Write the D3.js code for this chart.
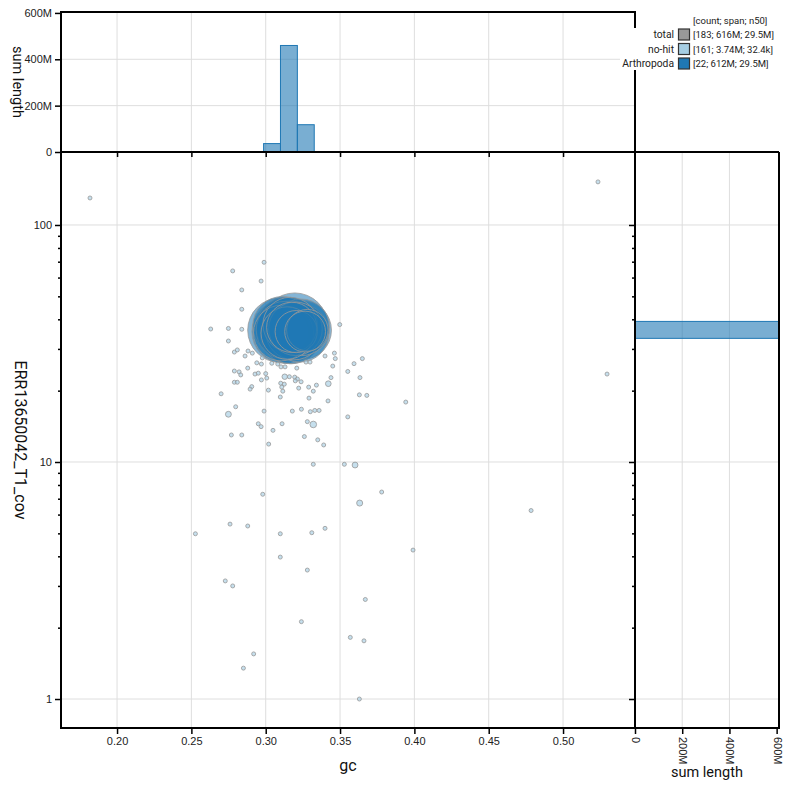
<!DOCTYPE html>
<html>
<head>
<meta charset="utf-8">
<script src="https://cdn.jsdelivr.net/npm/d3@7"></script>
<style>
  body { margin: 0; background: #fff; }
  svg { font-family: Roboto, "Noto Sans", sans-serif; }
</style>
</head>
<body>
<svg id="chart" width="790" height="790"></svg>
<script>
// Arthropoda contigs: gc, coverage, length (Mb)
var arthGc  = [0.3195, 0.3095, 0.3120, 0.3150, 0.3170, 0.3140, 0.3180, 0.3110, 0.3160, 0.3130, 0.3190,
               0.3105, 0.3165, 0.3200, 0.3145, 0.3175, 0.3205, 0.3245, 0.3230, 0.3240, 0.3280, 0.3265];
var arthCov = [37.5, 36.0, 35.5, 36.5, 35.0, 37.0, 36.0, 37.5, 34.5, 36.0, 35.5,
               35.0, 38.0, 36.5, 35.0, 37.0, 35.5, 36.0, 35.0, 37.0, 36.0, 35.5];
var arthLen = [38, 36, 35, 34, 33, 32, 31, 30, 29.5, 29, 28,
               27, 26, 25, 24, 22, 15.5, 30, 29.5, 28, 15, 14.5];

// no-hit contigs: gc, coverage, length (kb)
var noHitGc = [0.1818, 0.5235, 0.5296, 0.4785, 0.3991, 0.3942, 0.3780, 0.2950, 0.2969, 0.3110,
               0.3280, 0.3320, 0.2769, 0.2839, 0.3049, 0.3260, 0.3350, 0.3020, 0.3390, 0.3320,
               0.3529, 0.3601, 0.2980, 0.3632, 0.2760, 0.2879, 0.2527, 0.3098, 0.3310, 0.3399,
               0.3098, 0.3280, 0.2728, 0.2778, 0.3670, 0.3240, 0.3569, 0.3661, 0.2919, 0.2850,
               0.3630, 0.2989, 0.2778, 0.2969, 0.2839, 0.2839, 0.2630, 0.2749, 0.2839, 0.3498,
               0.2749, 0.2789, 0.2809, 0.2881, 0.2910, 0.2861, 0.3462, 0.3399, 0.3468, 0.2977,
               0.2940, 0.2971, 0.3041, 0.3081, 0.3103, 0.3130, 0.3209, 0.3271, 0.3298, 0.3451,
               0.3594, 0.3650, 0.2789, 0.2821, 0.2832, 0.2879, 0.2928, 0.2950, 0.3000, 0.3552,
               0.2971, 0.3007, 0.3128, 0.3159, 0.3195, 0.3213, 0.3238, 0.3439, 0.3634, 0.2789,
               0.2809, 0.3101, 0.3125, 0.3199, 0.3421, 0.2906, 0.2895, 0.3018, 0.3108, 0.3115,
               0.3222, 0.3289, 0.3341, 0.3320, 0.2700, 0.3098, 0.3291, 0.3419, 0.3630, 0.3680,
               0.2798, 0.2989, 0.3179, 0.3240, 0.3300, 0.3330, 0.3359, 0.3552, 0.2749];
var noHitCov = [130, 152, 23.5, 6.24, 4.25, 17.9, 7.47, 14.5, 14.1, 14.5,
                14.8, 14.4, 13.0, 13.0, 13.6, 12.8, 12.4, 11.9, 11.8, 9.78,
                9.78, 9.71, 7.31, 6.71, 5.47, 5.37, 4.98, 4.98, 5.03, 5.25,
                3.97, 3.50, 3.15, 3.00, 2.63, 2.12, 1.82, 1.76, 1.55, 1.35,
                1.00, 69.6, 64.0, 58.0, 53.2, 44.1, 36.4, 36.6, 36.3, 38.0,
                32.4, 29.1, 29.7, 29.4, 28.8, 28.0, 28.8, 28.0, 27.3, 27.5,
                26.2, 25.9, 26.1, 25.9, 25.2, 25.2, 24.9, 26.4, 26.4, 25.4,
                26.0, 27.3, 24.2, 24.0, 23.3, 24.9, 23.5, 23.7, 23.6, 24.1,
                22.2, 22.6, 22.9, 22.9, 22.8, 22.4, 21.8, 22.7, 22.7, 21.7,
                21.7, 21.5, 21.3, 22.0, 21.4, 20.8, 20.3, 20.1, 20.7, 19.9,
                20.5, 20.7, 21.1, 19.9, 19.4, 18.8, 18.6, 18.1, 19.2, 19.1,
                17.1, 16.4, 16.4, 16.7, 16.3, 16.5, 16.5, 15.5, 15.9];
var noHitLen = [18, 16, 15, 20, 14, 15, 15, 30, 12, 40,
                25, 380, 12, 14, 16, 20, 18, 22, 12, 30,
                12, 300, 15, 320, 14, 18, 12, 15, 20, 16,
                12, 14, 12, 12, 15, 12, 12, 14, 12, 12,
                14, 60, 30, 16, 25, 30, 20, 18, 16, 30,
                25, 35, 30, 40, 25, 30, 30, 30, 30, 25,
                25, 30, 20, 18, 16, 16, 14, 25, 20, 16,
                14, 12, 30, 35, 30, 20, 30, 25, 20, 16,
                30, 35, 260, 40, 30, 30, 25, 30, 12, 30,
                30, 20, 25, 30, 280, 30, 30, 35, 20, 25,
                30, 30, 25, 30, 20, 30, 25, 30, 14, 12,
                30, 25, 25, 25, 25, 25, 25, 20, 300];

var gcTicks = [0.20, 0.25, 0.30, 0.35, 0.40, 0.45, 0.50];
var covTicks = [1, 10, 100];
var covMinor = [2, 3, 4, 5, 6, 7, 8, 9, 20, 30, 40, 50, 60, 70, 80, 90];
var lenTicks = [0, 200e6, 400e6, 600e6];

var legendNames = ["total", "no-hit", "Arthropoda"];
var legendStats = ["[183; 616M; 29.5M]", "[161; 3.74M; 32.4k]", "[22; 612M; 29.5M]"];
var legendColors = ["#999999", "#a6cee3", "#1f78b4"];

// layout
var L = 61, R = 635, T = 152, B = 728, histTop = 12, histRight = 779;
var nBins = 34;

var svg = d3.select("#chart");

var x = d3.scaleLinear().domain([0.1623, 0.5484]).range([L, R]);
var y = d3.scaleLog().domain([0.7546, 203.2]).range([B, T]);
var hTop = d3.scaleLinear().domain([0, 604e6]).range([T, histTop]);
var hRight = d3.scaleLinear().domain([0, 610e6]).range([R, histRight]);
var rad = d3.scaleSqrt().domain([0, 38e6]).range([0, 33]);

// build the contig list
var contigs = [];
arthGc.forEach(function(g, i) {
  contigs.push({gc: g, cov: arthCov[i], len: arthLen[i] * 1e6, group: "Arthropoda"});
});
noHitGc.forEach(function(g, i) {
  contigs.push({gc: g, cov: noHitCov[i], len: noHitLen[i] * 1e3, group: "no-hit"});
});
contigs.sort(function(a, b) { return b.len - a.len; });

// histogram bins (sum of length)
var gx0 = x.domain()[0], gx1 = x.domain()[1];
var ly0 = Math.log10(y.domain()[0]), ly1 = Math.log10(y.domain()[1]);
var gcBins = d3.range(nBins).map(function(i) {
  return {x0: gx0 + i * (gx1 - gx0) / nBins, x1: gx0 + (i + 1) * (gx1 - gx0) / nBins, sum: 0};
});
var covBins = d3.range(nBins).map(function(i) {
  return {y0: Math.pow(10, ly0 + i * (ly1 - ly0) / nBins), y1: Math.pow(10, ly0 + (i + 1) * (ly1 - ly0) / nBins), sum: 0};
});
contigs.forEach(function(c) {
  var gi = Math.floor((c.gc - gx0) / (gx1 - gx0) * nBins);
  var ci = Math.floor((Math.log10(c.cov) - ly0) / (ly1 - ly0) * nBins);
  if (gi >= 0 && gi < nBins) gcBins[gi].sum += c.len;
  if (ci >= 0 && ci < nBins) covBins[ci].sum += c.len;
});

var gridColor = "#dedede";

// grid lines
var grid = svg.append("g");
gcTicks.forEach(function(t) {
  grid.append("line").attr("x1", x(t)).attr("x2", x(t)).attr("y1", histTop).attr("y2", B)
    .attr("stroke", gridColor);
});
covTicks.forEach(function(t) {
  grid.append("line").attr("x1", L).attr("x2", histRight).attr("y1", y(t)).attr("y2", y(t))
    .attr("stroke", gridColor);
});
[200e6, 400e6].forEach(function(t) {
  grid.append("line").attr("x1", L).attr("x2", R).attr("y1", hTop(t)).attr("y2", hTop(t))
    .attr("stroke", gridColor);
  grid.append("line").attr("x1", hRight(t)).attr("x2", hRight(t)).attr("y1", T).attr("y2", B)
    .attr("stroke", gridColor);
});

// top histogram
svg.append("g").selectAll("rect")
  .data(gcBins.filter(function(d) { return d.sum > 0; }))
  .enter().append("rect")
  .attr("x", function(d) { return x(d.x0); })
  .attr("width", function(d) { return x(d.x1) - x(d.x0); })
  .attr("y", function(d) { return hTop(d.sum); })
  .attr("height", function(d) { return T - hTop(d.sum); })
  .attr("fill", "#1f78b4").attr("fill-opacity", 0.6)
  .attr("stroke", "#1f78b4").attr("stroke-width", 1);

// right histogram (clipped to its box)
svg.append("clipPath").attr("id", "rclip").append("rect")
  .attr("x", R).attr("y", T).attr("width", histRight - R).attr("height", B - T);
svg.append("g").attr("clip-path", "url(#rclip)").selectAll("rect")
  .data(covBins.filter(function(d) { return d.sum > 0; }))
  .enter().append("rect")
  .attr("x", R)
  .attr("width", function(d) { return hRight(d.sum) - R; })
  .attr("y", function(d) { return y(d.y1); })
  .attr("height", function(d) { return y(d.y0) - y(d.y1); })
  .attr("fill", "#1f78b4").attr("fill-opacity", 0.6)
  .attr("stroke", "#1f78b4").attr("stroke-width", 1);

// scatter
svg.append("clipPath").attr("id", "mclip").append("rect")
  .attr("x", L).attr("y", T).attr("width", R - L).attr("height", B - T);
svg.append("g").attr("clip-path", "url(#mclip)").selectAll("circle")
  .data(contigs)
  .enter().append("circle")
  .attr("cx", function(d) { return x(d.gc); })
  .attr("cy", function(d) { return y(d.cov); })
  .attr("r", function(d) { return Math.max(2, rad(d.len)); })
  .attr("fill", function(d) { return d.group == "Arthropoda" ? "#1f78b4" : "#a6cee3"; })
  .attr("fill-opacity", function(d) { return d.group == "Arthropoda" ? 0.55 : 0.65; })
  .attr("stroke", "#999")
  .attr("stroke-opacity", 0.8)
  .attr("stroke-width", 1);

// axes
function styleAxis(g) {
  g.select(".domain").remove();
  g.selectAll(".tick line").attr("stroke", "#000").attr("stroke-width", 1.5);
  g.selectAll(".tick text").attr("fill", "#222").style("font-size", "11px");
}

svg.append("g").attr("transform", "translate(0," + B + ")")
  .call(d3.axisBottom(x).tickValues(gcTicks).tickFormat(d3.format(".2f")).tickSize(6))
  .call(styleAxis);
svg.append("g").attr("transform", "translate(0," + T + ")")
  .call(d3.axisBottom(x).tickValues(gcTicks).tickFormat("").tickSize(5))
  .call(styleAxis);

svg.append("g").attr("transform", "translate(" + L + ",0)")
  .call(d3.axisLeft(y).tickValues(covTicks).tickFormat(d3.format("d")).tickSize(6))
  .call(styleAxis);
svg.append("g").attr("transform", "translate(" + L + ",0)")
  .call(d3.axisLeft(y).tickValues(covMinor).tickFormat("").tickSize(3))
  .call(styleAxis);
svg.append("g").attr("transform", "translate(" + R + ",0)")
  .call(d3.axisLeft(y).tickValues(covTicks).tickFormat("").tickSize(6))
  .call(styleAxis);
svg.append("g").attr("transform", "translate(" + R + ",0)")
  .call(d3.axisLeft(y).tickValues(covMinor).tickFormat("").tickSize(3))
  .call(styleAxis);

svg.append("g").attr("transform", "translate(" + L + ",0)")
  .call(d3.axisLeft(hTop).tickValues(lenTicks).tickFormat(d3.format("~s")).tickSize(6))
  .call(styleAxis);

var rAxis = svg.append("g").attr("transform", "translate(0," + B + ")")
  .call(d3.axisBottom(hRight).tickValues(lenTicks).tickFormat(d3.format("~s")).tickSize(6))
  .call(styleAxis);
rAxis.selectAll(".tick text")
  .attr("y", 0).attr("x", 9).attr("dy", "0.32em")
  .attr("transform", "rotate(90)")
  .attr("text-anchor", "start");

// frames
var frame = svg.append("g").attr("fill", "none").attr("stroke", "#000").attr("stroke-width", 2);
frame.append("rect").attr("x", L).attr("y", histTop).attr("width", R - L).attr("height", B - histTop);
frame.append("line").attr("x1", L).attr("x2", histRight).attr("y1", T).attr("y2", T);
frame.append("line").attr("x1", R).attr("x2", R).attr("y1", histTop).attr("y2", B);
frame.append("polyline").attr("points", R + "," + B + " " + histRight + "," + B + " " + histRight + "," + T);

// axis titles
svg.append("text").attr("x", (L + R) / 2).attr("y", 771)
  .attr("text-anchor", "middle").style("font-size", "16px").attr("fill", "#111").text("gc");
svg.append("text").attr("transform", "translate(15," + ((T + B) / 2) + ") rotate(90)")
  .attr("text-anchor", "middle").style("font-size", "16px").attr("fill", "#111").text("ERR13650042_T1_cov");
svg.append("text").attr("transform", "translate(13," + ((histTop + T) / 2) + ") rotate(90)")
  .attr("text-anchor", "middle").style("font-size", "14.5px").attr("fill", "#111").text("sum length");
svg.append("text").attr("x", (R + histRight) / 2).attr("y", 777)
  .attr("text-anchor", "middle").style("font-size", "14.5px").attr("fill", "#111").text("sum length");

// legend (white panel behind it hides the frame line)
var lg = svg.append("g").style("font-size", "10.3px");
lg.append("rect").attr("x", 620).attr("y", 28).attr("width", 160).attr("height", 42)
  .attr("fill", "#fff");
lg.append("text").attr("x", 693).attr("y", 24).style("font-size", "9.5px").attr("fill", "#222").text("[count; span; n50]");
legendNames.forEach(function(name, i) {
  var yy = 38 + i * 14.5;
  lg.append("text").attr("x", 674).attr("y", yy).attr("text-anchor", "end").attr("fill", "#222").text(name);
  lg.append("rect").attr("x", 678.5).attr("y", yy - 9).attr("width", 11).attr("height", 11)
    .attr("fill", legendColors[i]).attr("stroke", "#333").attr("stroke-width", 1.2);
  lg.append("text").attr("x", 693).attr("y", yy).style("font-size", "9.5px").attr("fill", "#222").text(legendStats[i]);
});
</script>
</body>
</html>
